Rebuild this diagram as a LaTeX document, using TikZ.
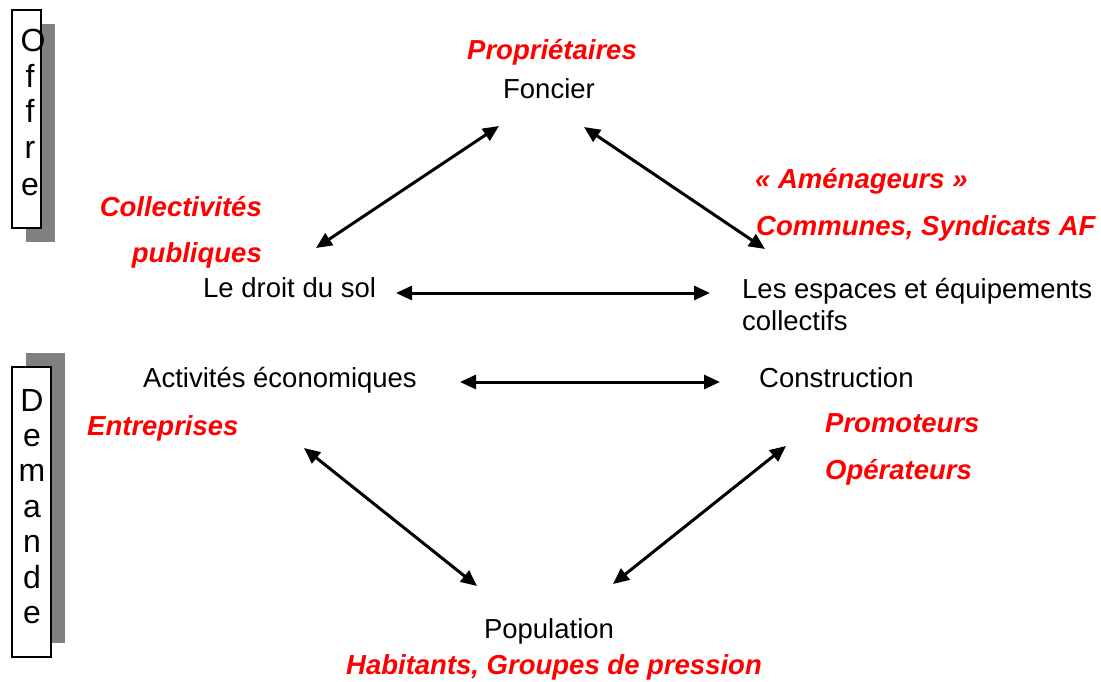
\documentclass[tikz,border=0pt]{standalone}
\usepackage{fontspec}
\setmainfont{Liberation Sans}
\usetikzlibrary{arrows.meta}
\definecolor{labred}{RGB}{255,0,0}
\definecolor{shadowgray}{RGB}{128,128,128}
\tikzset{
  txt/.style={inner sep=0pt, font=\fontsize{27.5}{32}\selectfont},
  actor/.style={txt, text=labred, font=\fontsize{27.5}{32}\selectfont\bfseries\itshape},
  letter/.style={inner sep=0pt, anchor=base, font=\fontsize{32}{36}\selectfont},
  link/.style={line width=3pt, {Triangle[length=16pt,width=14pt]}-{Triangle[length=16pt,width=14pt]}},
  sidebox/.style={fill=white, draw=black, line width=1.3pt}
}
\begin{document}
\begin{tikzpicture}[x=1pt,y=-1pt]
\useasboundingbox (0,0) rectangle (1101,681);
% Offre box
\fill[shadowgray] (26,24) rectangle (55,242);
\draw[sidebox] (12,10) rectangle (41,228);
\node[letter] (o1) at (33,51) {O};
\node[letter] (o2) at (30,87) {f};
\node[letter] (o3) at (30,122) {f};
\node[letter] (o4) at (30,158) {r};
\node[letter] (o5) at (30,195) {e};
% Demande box
\fill[shadowgray] (26,353) rectangle (65,643);
\draw[sidebox] (12,367) rectangle (51,657);
\node[letter] (d1) at (32,411) {D};
\node[letter] (d2) at (32,446) {e};
\node[letter] (d3) at (32,481) {m};
\node[letter] (d4) at (32,517) {a};
\node[letter] (d5) at (32,552) {n};
\node[letter] (d6) at (32,588) {d};
\node[letter] (d7) at (32,623) {e};
% main texts
\node[txt, anchor=base] (foncier) at (549,98) {Foncier};
\node[actor, anchor=base] (proprio) at (552,59) {Propriétaires};
\node[txt, anchor=base west] (droit) at (203,297) {Le droit du sol};
\node[actor, anchor=base east] (coll1) at (262,216) {Collectivités};
\node[actor, anchor=base east] (coll2) at (262,262) {publiques};
\node[txt, anchor=base west] (esp1) at (742,298) {Les espaces et équipements};
\node[txt, anchor=base west] (esp2) at (742,330) {collectifs};
\node[actor, anchor=base west] (amen) at (755,188) {« Aménageurs »};
\node[actor, anchor=base west] (comm) at (756,235) {Communes, Syndicats AF};
\node[txt, anchor=base west] (activ) at (143,387) {Activités économiques};
\node[actor, anchor=base west] (entr) at (87,435) {Entreprises};
\node[txt, anchor=base west] (constr) at (759,387) {Construction};
\node[actor, anchor=base west] (promo) at (825,432) {Promoteurs};
\node[actor, anchor=base west] (oper) at (825,479) {Opérateurs};
\node[txt, anchor=base] (pop) at (549,638) {Population};
\node[actor, anchor=base] (hab) at (554,674) {Habitants, Groupes de pression};
% connector ends
\coordinate (fL) at (499,126);
\coordinate (dT) at (316,248);
\coordinate (fR) at (584,127);
\coordinate (eT) at (765,249);
\coordinate (dR) at (396,293);
\coordinate (eL) at (710,293);
\coordinate (aR) at (460,382);
\coordinate (cL) at (720,382);
\coordinate (aB) at (304,448);
\coordinate (pL) at (477,586);
\coordinate (cB) at (786,446);
\coordinate (pR) at (613,584);
% connectors
\draw[link] (fL) -- (dT);
\draw[link] (fR) -- (eT);
\draw[link] (dR) -- (eL);
\draw[link] (aR) -- (cL);
\draw[link] (aB) -- (pL);
\draw[link] (cB) -- (pR);
\end{tikzpicture}
\end{document}
